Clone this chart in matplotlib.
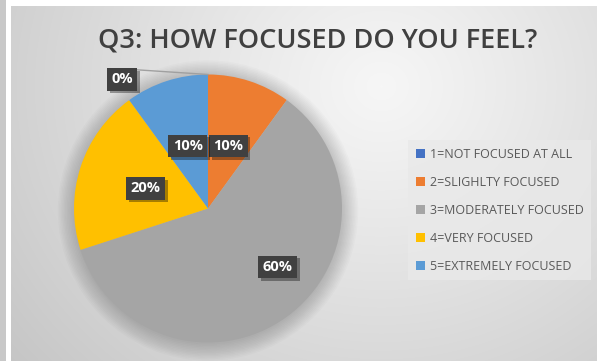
import numpy as np
import matplotlib
matplotlib.use("Agg")
import matplotlib.pyplot as plt
import matplotlib.patheffects as pe

# survey answers, Q3
labels = ["1=NOT FOCUSED AT ALL", "2=SLIGHLTY FOCUSED", "3=MODERATELY FOCUSED",
          "4=VERY FOCUSED", "5=EXTREMELY FOCUSED"]
shares = [0, 10, 60, 20, 10]
colors = ["#4472C4", "#ED7D31", "#A5A5A5", "#FFC000", "#5B9BD5"]
# where each data label sits: fraction of radius, turn from mid-angle (deg)
label_radius = [1.0, 0.49, 0.68, 0.49, 0.49]
label_turn = [0, 0, 14, 0, 0]

W, H = 597, 361
plt.rcParams['font.family'] = ['Open Sans', 'DejaVu Sans']

fig = plt.figure(figsize=(W / 100, H / 100), dpi=100)
fig.patch.set_facecolor("white")

# left grey strip of the sheet
strip = fig.add_axes([0, 0, 6 / W, 1])
strip.set_facecolor("#c8c8c8")
strip.set_xticks([]); strip.set_yticks([])
for s in strip.spines.values():
    s.set_visible(False)

# chart area with radial gradient
bg = fig.add_axes([11 / W, 0, 1 - 11 / W, 1 - 6 / H])
bw, bh = W - 11, H - 6
yy, xx = np.mgrid[0:bh, 0:bw]
d = np.hypot(xx - 370, (yy - 80) * 1.1)
d = d / d.max()
val = 0.965 - 0.19 * np.clip(d, 0, 1) ** 1.1
bg.imshow(np.dstack([val, val, val]), aspect="auto", extent=[0, 1, 0, 1])
bg.set_axis_off()

# pie
cx, cy, r = 208, 361 - 208.5, 134
ax = fig.add_axes([(cx - r) / W, (cy - r) / H, 2 * r / W, 2 * r / H])
ax.set_zorder(2)

# soft shadow around the pie
for k in range(12):
    ax.add_patch(plt.Circle((0.0, -0.015), 1.0 + 0.011 * k, color="#000000",
                            alpha=0.016, lw=0, zorder=0, clip_on=False))

wedges, _ = ax.pie(shares, colors=colors, startangle=90, counterclock=False,
                   radius=1.0, wedgeprops=dict(linewidth=0))
ax.set_xlim(-1, 1)
ax.set_ylim(-1, 1)
ax.set_aspect("auto")
ax.axis("off")

box = dict(boxstyle="square,pad=0.3", fc="#404040", ec="none")
shadow = [pe.SimplePatchShadow(offset=(2, -2), shadow_rgbFace="#000000",
                               alpha=0.35), pe.Normal()]

for w, v, rr, turn in zip(wedges, shares, label_radius, label_turn):
    mid = np.deg2rad((w.theta1 + w.theta2) / 2 + turn)
    txt = "%d%%" % v
    if v == 0:
        # leader label outside the rim
        rim = (np.cos(mid), np.sin(mid))
        tx, ty = -0.64, 0.965
        ax.plot([tx + 0.11, rim[0]], [ty + 0.07, rim[1]], color="#a0a0a0",
                lw=1, zorder=3, clip_on=False)
    else:
        tx, ty = rr * np.cos(mid), rr * np.sin(mid)
    t = ax.text(tx, ty, txt, ha="center", va="center", fontsize=10.5,
                fontweight="bold", color="white", bbox=box, zorder=5,
                clip_on=False)
    t.get_bbox_patch().set_path_effects(shadow)

fig.text(318 / W, 1 - 40 / H, "Q3: HOW FOCUSED DO YOU FEEL?", ha="center",
         va="center", fontsize=19.5, fontweight="semibold", color="#404040")

handles = [plt.Rectangle((0, 0), 1, 1, fc=c, ec="none") for c in colors]
leg = fig.legend(handles, labels, loc="center left",
                 bbox_to_anchor=(402 / W, 1 - 210 / H), frameon=True,
                 handlelength=0.7, handleheight=0.7, handletextpad=0.4,
                 labelspacing=1.2, borderpad=0.6, fancybox=False,
                 prop=dict(size=9, weight="medium"), labelcolor="#595959")
leg.get_frame().set_facecolor("#e9e9e9")
leg.get_frame().set_edgecolor("none")
leg.get_frame().set_alpha(0.8)
leg.set_zorder(5)

fig.savefig("out.png", dpi=100)
